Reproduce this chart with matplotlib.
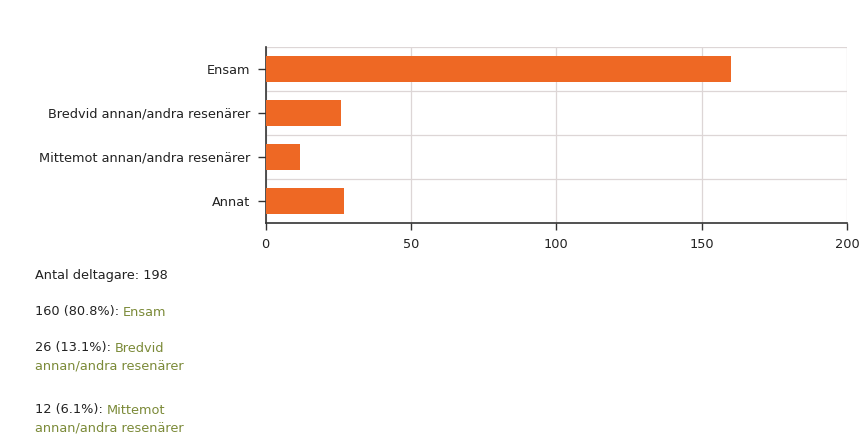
import matplotlib
matplotlib.use("Agg")
import matplotlib.pyplot as plt

categories = ["Ensam", "Bredvid annan/andra resenärer",
              "Mittemot annan/andra resenärer", "Annat"]
counts = [160, 26, 12, 27]
x_ticks = [0, 50, 100, 150, 200]
participants = 198
summary = [
    ("160 (80.8%): ", ["Ensam"]),
    ("26 (13.1%): ", ["Bredvid", "annan/andra resenärer"]),
    ("12 (6.1%): ", ["Mittemot", "annan/andra resenärer"]),
]

BAR = "#ee6824"
DARK = "#222222"
OLIVE = "#7b8a38"
GRID = "#ddd6d6"
FS = 9.3

plt.rcParams["font.family"] = ["DejaVu Sans"]
fig = plt.figure(figsize=(8.68, 4.42), dpi=100)
ax = fig.add_axes([0.3059, 0.4962, 0.670, 0.3975])

y = list(range(len(categories)))
ax.barh(y, counts, height=0.6, color=BAR, zorder=3)
ax.set_ylim(len(categories) - 0.5, -0.5)
ax.set_xlim(0, 200)
ax.set_yticks(y)
ax.set_yticklabels(categories, fontsize=FS, color=DARK)
ax.set_xticks(x_ticks)
ax.set_xticklabels([str(t) for t in x_ticks], fontsize=FS, color=DARK)

# grid lines between category bands and at x ticks
for b in [0.5, 1.5, 2.5, -0.5]:
    ax.axhline(b, color=GRID, lw=0.9, zorder=1)
ax.xaxis.grid(True, color=GRID, lw=0.9, zorder=1)
ax.set_axisbelow(True)

for s in ["top", "right"]:
    ax.spines[s].set_visible(False)
ax.spines["left"].set_color("#333333")
ax.spines["bottom"].set_color("#333333")
ax.spines["left"].set_linewidth(1.2)
ax.spines["bottom"].set_linewidth(1.2)
ax.tick_params(axis="y", length=6, width=1.0, color="#333333", pad=5)
ax.tick_params(axis="x", length=5, width=1.0, color="#333333", pad=6)

# summary text below the chart
def px(yp):
    return 1 - yp / 442.0

x0 = 35 / 868.0
fig.text(x0, px(275), f"Antal deltagare: {participants}", fontsize=FS,
         color=DARK, va="center", ha="left")

rows_y = [312, 348, 410]
line_gap = 18
for (lead, labels), yp in zip(summary, rows_y):
    t = fig.text(x0, px(yp), lead, fontsize=FS, color=DARK,
                 va="center", ha="left")
    fig.canvas.draw()
    bb = t.get_window_extent()
    fig.text(bb.x1 / fig.bbox.width, px(yp), labels[0], fontsize=FS,
             color=OLIVE, va="center", ha="left")
    for i, extra in enumerate(labels[1:], start=1):
        fig.text(x0, px(yp + i * line_gap), extra, fontsize=FS,
                 color=OLIVE, va="center", ha="left")

fig.savefig("out.png", dpi=100, facecolor="white")
